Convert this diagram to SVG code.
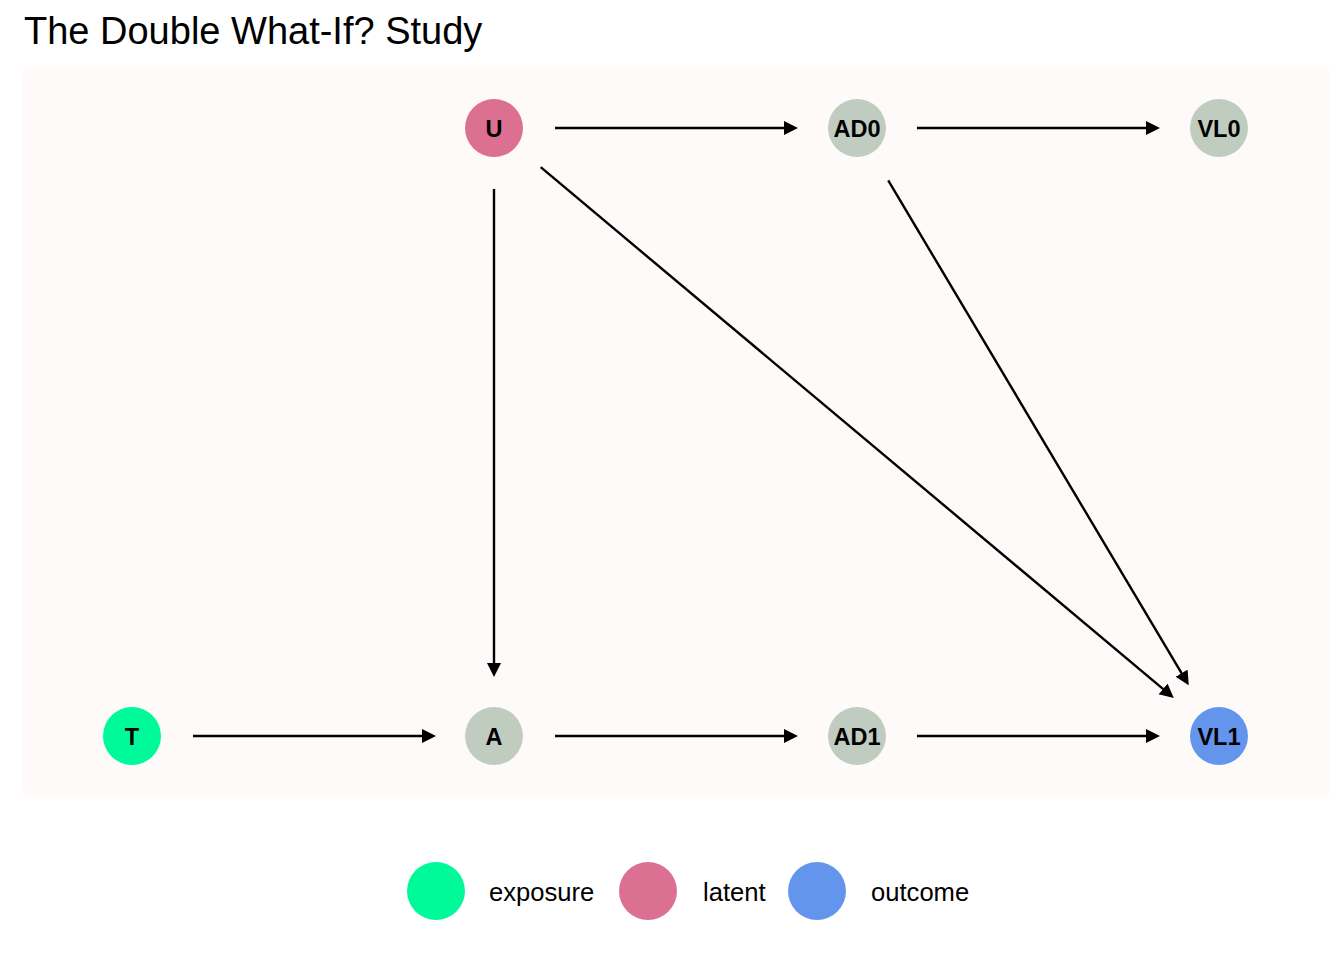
<svg xmlns="http://www.w3.org/2000/svg" width="1344" height="960" viewBox="0 0 1344 960">
<defs>
<style>
.node-label{font-family:"Liberation Sans",Arial,sans-serif;font-weight:bold;font-size:23.5px;fill:#000;text-anchor:middle;dominant-baseline:central}
.legend-label{font-family:"Liberation Sans",Arial,sans-serif;font-size:25.6px;fill:#000}
.title{font-family:"Liberation Sans",Arial,sans-serif;font-size:38px;fill:#000}
.edge{stroke:#000;stroke-width:2.4;fill:none;marker-end:url(#arrow)}
.exposure{fill:#00FA9A}
.latent{fill:#DB7093}
.outcome{fill:#6495ED}
.other{fill:#C1CCC0}
</style>
<marker id="arrow" markerUnits="userSpaceOnUse" markerWidth="16" markerHeight="15" refX="8" refY="7" orient="auto">
<path d="M0,0 L14,7 L0,14 z" fill="#000"/>
</marker>
</defs>
<rect width="1344" height="960" fill="#FFFFFF"/>
<text class="title" x="24" y="44">The Double What-If? Study</text>
<rect x="23" y="67" width="1306" height="730" fill="#FEFAF9"/>
<g id="connectors">
<line class="edge" x1="555" y1="128" x2="792" y2="128"/>
<line class="edge" x1="917" y1="128" x2="1154" y2="128"/>
<line class="edge" x1="193" y1="736" x2="430" y2="736"/>
<line class="edge" x1="555" y1="736" x2="792" y2="736"/>
<line class="edge" x1="917" y1="736" x2="1154" y2="736"/>
<line class="edge" x1="494" y1="189" x2="494" y2="671"/>
<line class="edge" x1="540.7" y1="167.2" x2="1169.2" y2="694.1"/>
<line class="edge" x1="888.2" y1="180.4" x2="1185.7" y2="680.1"/>
</g>
<g id="node-U"><circle class="latent" cx="494" cy="128" r="29"/><text class="node-label" x="494" y="129">U</text></g>
<g id="node-AD0"><circle class="other" cx="857" cy="128" r="29"/><text class="node-label" x="857" y="129">AD0</text></g>
<g id="node-VL0"><circle class="other" cx="1219" cy="128" r="29"/><text class="node-label" x="1219" y="129">VL0</text></g>
<g id="node-T"><circle class="exposure" cx="132" cy="736" r="29"/><text class="node-label" x="132" y="737">T</text></g>
<g id="node-A"><circle class="other" cx="494" cy="736" r="29"/><text class="node-label" x="494" y="737">A</text></g>
<g id="node-AD1"><circle class="other" cx="857" cy="736" r="29"/><text class="node-label" x="857" y="737">AD1</text></g>
<g id="node-VL1"><circle class="outcome" cx="1219" cy="736" r="29"/><text class="node-label" x="1219" y="737">VL1</text></g>
<g id="legend">
<circle class="exposure" cx="436" cy="891" r="29"/>
<text class="legend-label" x="489" y="901">exposure</text>
<circle class="latent" cx="648" cy="891" r="29"/>
<text class="legend-label" x="703" y="901">latent</text>
<circle class="outcome" cx="817" cy="891" r="29"/>
<text class="legend-label" x="871" y="901">outcome</text>
</g>
</svg>
